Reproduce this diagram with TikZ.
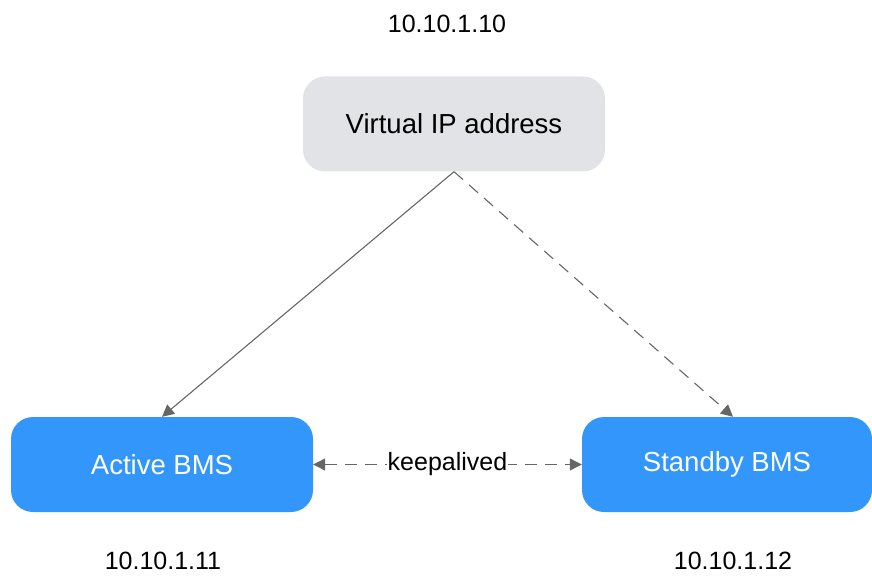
\documentclass[tikz,border=0pt]{standalone}
\usepackage{fontspec}
\setmainfont{Liberation Sans}
\usetikzlibrary{arrows.meta}
\definecolor{vipgray}{HTML}{E1E3E6}
\definecolor{bmsblue}{HTML}{3396FA}
\definecolor{linegray}{HTML}{666666}
\tikzset{
  box/.style={rounded corners=22pt,minimum width=302pt,minimum height=95pt,inner sep=0pt,font=\fontsize{27.5}{32}\selectfont},
  addr/.style={font=\fontsize{25}{30}\selectfont},
  iplabel/.style={addr,anchor=base,inner sep=0pt},
  link/.style={draw=linegray,line width=1.1pt,-{Triangle[length=12pt,width=12pt]}},
  dashlink/.style={dash pattern=on 12pt off 8pt},
}

\begin{document}
\begin{tikzpicture}[x=1pt,y=-1pt]
\useasboundingbox (0,0) rectangle (872,577);
\node[box,fill=vipgray] (vip) at (454,124) {Virtual IP address};
\node[box,fill=bmsblue,text=white] (active) at (162,464.5) {Active BMS};
\node[box,fill=bmsblue,text=white,minimum width=290pt] (standby) at (727,464.5) {Standby BMS};
\node[iplabel] (vipaddr) at (447,33) {10.10.1.10};
\node[iplabel] (activeaddr) at (163,569) {10.10.1.11};
\node[iplabel] (standbyaddr) at (733,569) {10.10.1.12};
\draw[link] (vip.south) -- (active.north);
\draw[link,dashlink] (vip.south) -- ([xshift=6pt]standby.north);
\draw[link,{Triangle[length=12pt,width=12pt]}-{Triangle[length=12pt,width=12pt]},dashlink]
  (active.east) -- node[addr,fill=white,inner sep=1pt]{keepalived} (standby.west);
\end{tikzpicture}
\end{document}
